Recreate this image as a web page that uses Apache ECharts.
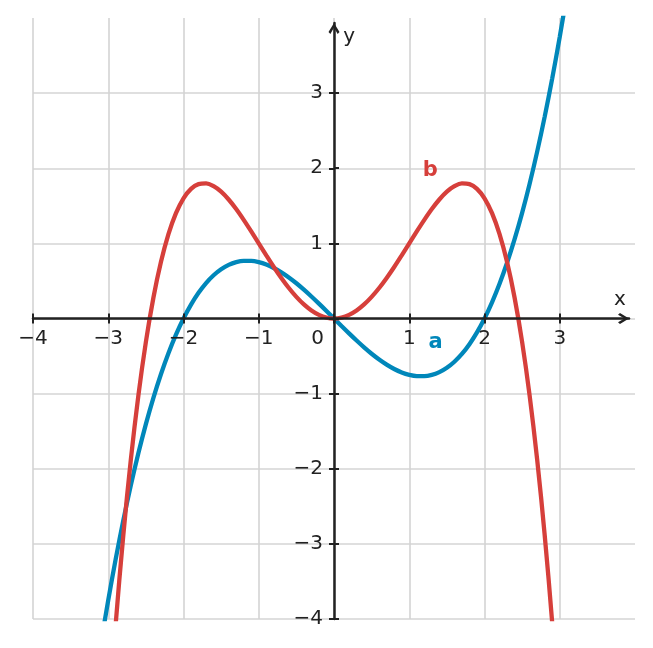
<!DOCTYPE html>
<html>
<head>
<meta charset="utf-8">
<script src="https://cdn.jsdelivr.net/npm/echarts@6/dist/echarts.min.js"></script>
<style>
  html, body { margin: 0; padding: 0; background: #fff; }
  #chart { width: 653px; height: 648px; }
</style>
</head>
<body>
<div id="chart"></div>
<script>
// x samples
const xs = [-3.2, -3.1, -3.0, -2.9, -2.8, -2.7, -2.6, -2.5, -2.4, -2.3, -2.2, -2.1, -2.0,
  -1.9, -1.8, -1.7, -1.6, -1.5, -1.4, -1.3, -1.2, -1.1, -1.0, -0.9, -0.8, -0.7, -0.6,
  -0.5, -0.4, -0.3, -0.2, -0.1, 0, 0.1, 0.2, 0.3, 0.4, 0.5, 0.6, 0.7, 0.8, 0.9, 1.0,
  1.1, 1.2, 1.3, 1.4, 1.5, 1.6, 1.7, 1.8, 1.9, 2.0, 2.1, 2.2, 2.3, 2.4, 2.5, 2.6, 2.7,
  2.8, 2.9, 3.0, 3.1, 3.2];

// curve a (blue)
const aVals = [-4.992, -4.348, -3.750, -3.197, -2.688, -2.221, -1.794, -1.406, -1.056, -0.742, -0.462, -0.215, 0,
  0.185, 0.342, 0.472, 0.576, 0.656, 0.714, 0.751, 0.768, 0.767, 0.750, 0.718, 0.672, 0.614, 0.546,
  0.469, 0.384, 0.293, 0.198, 0.100, 0, -0.100, -0.198, -0.293, -0.384, -0.469, -0.546, -0.614, -0.672, -0.718, -0.750,
  -0.767, -0.768, -0.751, -0.714, -0.656, -0.576, -0.472, -0.342, -0.185, 0, 0.215, 0.462, 0.742, 1.056, 1.406, 1.794, 2.221,
  2.688, 3.197, 3.750, 4.348, 4.992];

// curve b (red)
const bVals = [-8.684, -6.938, -5.400, -4.054, -2.885, -1.881, -1.028, -0.313, 0.276, 0.751, 1.123, 1.402, 1.600,
  1.726, 1.788, 1.798, 1.761, 1.688, 1.584, 1.457, 1.313, 1.159, 1.000, 0.841, 0.686, 0.540, 0.406,
  0.288, 0.187, 0.106, 0.048, 0.012, 0, 0.012, 0.048, 0.106, 0.187, 0.288, 0.406, 0.540, 0.686, 0.841, 1.000,
  1.159, 1.313, 1.457, 1.584, 1.688, 1.761, 1.798, 1.788, 1.726, 1.600, 1.402, 1.123, 0.751, 0.276, -0.313, -1.028, -1.881,
  -2.885, -4.054, -5.400, -6.938, -8.684];

const tickValues = [-4, -3, -2, -1, 0, 1, 2, 3];
const yLabelValues = [-4, -3, -2, -1, 1, 2, 3];
const labelA = [1.35, -0.32];
const labelB = [1.28, 1.97];
const nameX = [3.80, 0.25];
const nameY = [0.20, 3.75];

const BLUE = '#0087ba';
const RED = '#d63f3b';
const INK = '#222222';
const GRID = '#d4d4d4';
const FONT = 'DejaVu Sans';
const ARROW = 'path://M5,0L10,8.2L8.3,10L5,4.1L1.7,10L0,8.2Z';

function pairs(vals) {
  return xs.map((x, i) => [x, vals[i]]);
}
function minus(v) {
  return String(v).replace('-', '\u2212');
}
function tag(coord, text, color, weight, size) {
  return {
    coord: coord,
    label: { formatter: text, color: color, fontWeight: weight, fontSize: size, fontFamily: FONT }
  };
}

const tickStyle = { color: INK, width: 2 };
const txt = { fontSize: 20, fontFamily: FONT, color: INK };

const myChart = echarts.init(document.getElementById('chart'));

const option = {
  animation: false,
  grid: [
    { left: 33, right: 18, top: 18, bottom: 29, outerBoundsMode: 'none' },   // grid lines + curves
    { left: 33, right: 18, top: 18, bottom: 29, outerBoundsMode: 'none' },   // outer ticks + labels
    { left: 33, right: 24, top: 23, bottom: 29, outerBoundsMode: 'none' }    // arrowed axis lines
  ],
  xAxis: [
    {
      gridIndex: 0, type: 'value', min: -4, max: 4, interval: 1,
      axisLine: { show: false }, axisTick: { show: false }, axisLabel: { show: false },
      splitLine: { show: true, showMaxLine: false, lineStyle: { color: GRID, width: 1.6 } }
    },
    {
      gridIndex: 1, type: 'value', min: -4, max: 4, interval: 1, z: 10,
      position: 'bottom', offset: -300.5,
      axisLine: { show: true, onZero: false, lineStyle: { color: 'rgba(0,0,0,0)' } },
      axisTick: { show: true, inside: false, length: 5, customValues: tickValues, lineStyle: tickStyle },
      axisLabel: {
        show: true, customValues: tickValues, margin: 10, ...txt,
        formatter: v => (v === 0 ? '{z|0}' : minus(v)),
        rich: { z: { ...txt, padding: [0, 33, 0, 0] } }
      },
      splitLine: { show: false }
    },
    {
      gridIndex: 2, type: 'value', min: -4, max: 3.92, z: 10,
      position: 'bottom', offset: -300.5,
      axisLine: {
        show: true, onZero: false,
        symbol: ['none', ARROW], symbolSize: [11, 11], symbolOffset: [0, -5.5],
        lineStyle: { color: INK, width: 2.5 }
      },
      axisTick: { show: true, inside: true, length: 5, customValues: tickValues, lineStyle: tickStyle },
      axisLabel: { show: false },
      splitLine: { show: false }
    }
  ],
  yAxis: [
    {
      gridIndex: 0, type: 'value', min: -4, max: 4, interval: 1,
      axisLine: { show: false }, axisTick: { show: false }, axisLabel: { show: false },
      splitLine: { show: true, showMaxLine: false, lineStyle: { color: GRID, width: 1.6 } }
    },
    {
      gridIndex: 1, type: 'value', min: -4, max: 4, interval: 1, z: 10,
      position: 'left', offset: -301,
      axisLine: { show: true, onZero: false, lineStyle: { color: 'rgba(0,0,0,0)' } },
      axisTick: { show: true, inside: false, length: 5, customValues: tickValues, lineStyle: tickStyle },
      axisLabel: { show: true, customValues: yLabelValues, margin: 11, ...txt, formatter: v => minus(v) },
      splitLine: { show: false }
    },
    {
      gridIndex: 2, type: 'value', min: -4, max: 3.933, z: 10,
      position: 'left', offset: -301,
      axisLine: {
        show: true, onZero: false,
        symbol: ['none', ARROW], symbolSize: [11, 11], symbolOffset: [0, -5.5],
        lineStyle: { color: INK, width: 2.5 }
      },
      axisTick: { show: true, inside: true, length: 5, customValues: tickValues, lineStyle: tickStyle },
      axisLabel: { show: false },
      splitLine: { show: false }
    }
  ],
  series: [
    {
      name: 'a', type: 'line', xAxisIndex: 0, yAxisIndex: 0,
      data: pairs(aVals), showSymbol: false, smooth: 0.35, silent: true,
      lineStyle: { color: BLUE, width: 4.3 }, itemStyle: { color: BLUE },
      markPoint: {
        symbol: 'circle', symbolSize: 0, silent: true,
        label: { show: true, position: 'inside' },
        data: [
          tag(labelA, 'a', BLUE, 'bold', 21),
          tag(nameX, 'x', INK, 'normal', 20),
          tag(nameY, 'y', INK, 'normal', 20)
        ]
      }
    },
    {
      name: 'b', type: 'line', xAxisIndex: 0, yAxisIndex: 0,
      data: pairs(bVals), showSymbol: false, smooth: 0.35, silent: true,
      lineStyle: { color: RED, width: 4.3 }, itemStyle: { color: RED },
      markPoint: {
        symbol: 'circle', symbolSize: 0, silent: true,
        label: { show: true, position: 'inside' },
        data: [tag(labelB, 'b', RED, 'bold', 21)]
      }
    }
  ]
};

myChart.setOption(option);
</script>
</body>
</html>
